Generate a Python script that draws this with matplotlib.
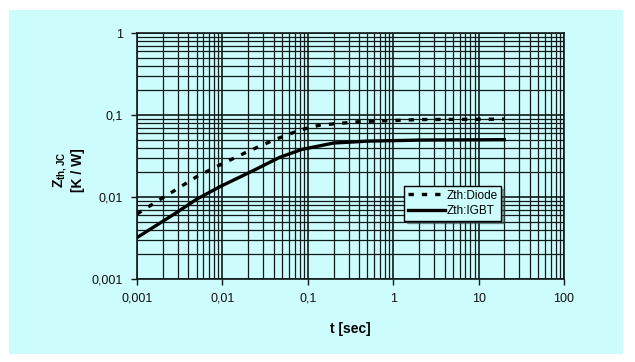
import numpy as np
import matplotlib.pyplot as plt
from matplotlib.patches import Rectangle
from matplotlib.ticker import FixedLocator, LogLocator, NullFormatter

plt.rcParams['font.family'] = ['Liberation Sans', 'DejaVu Sans']
plt.rcParams['mathtext.fontset'] = 'custom'
plt.rcParams['mathtext.rm'] = 'Liberation Sans'
plt.rcParams['mathtext.bf'] = 'Liberation Sans:bold'

# values
t_igbt = [0.001, 0.0028, 0.005, 0.0094, 0.023, 0.047, 0.085, 0.2, 0.5, 2.2, 20]
z_igbt = [0.0032, 0.0063, 0.0094, 0.0134, 0.021, 0.0305, 0.038, 0.0455, 0.048, 0.0495, 0.050]
t_diode = [0.001, 0.0017, 0.0029, 0.005, 0.0089, 0.02, 0.04, 0.081, 0.14, 0.41, 2.05, 20]
z_diode = [0.0062, 0.0088, 0.0124, 0.0177, 0.024, 0.036, 0.0495, 0.0656, 0.0755, 0.083, 0.088, 0.089]

x_ticks = [0.001, 0.01, 0.1, 1, 10, 100]
x_labels = ['0,001', '0,01', '0,1', '1', '10', '100']
y_ticks = [0.001, 0.01, 0.1, 1]
y_labels = ['0,001', '0,01', '0,1', '1']

panel = '#ccfcfc'
ink = '#111a1a'

fig = plt.figure(figsize=(6.35, 3.62), dpi=100)
fig.patch.set_facecolor('white')
fig.patches.append(Rectangle((9 / 635, 8 / 362), 614 / 635, 344 / 362,
                             transform=fig.transFigure, facecolor=panel,
                             edgecolor='none', zorder=-5))

ax = fig.add_axes([137 / 635, 1 - 279 / 362, 427 / 635, 246 / 362])
ax.set_facecolor(panel)
ax.set_xscale('log')
ax.set_yscale('log')
ax.set_xlim(0.001, 100)
ax.set_ylim(0.001, 1)

ax.xaxis.set_major_locator(FixedLocator(x_ticks))
ax.set_xticklabels(x_labels)
ax.yaxis.set_major_locator(FixedLocator(y_ticks))
ax.set_yticklabels(y_labels)
ax.xaxis.set_minor_locator(LogLocator(base=10, subs=np.arange(2, 10), numticks=20))
ax.yaxis.set_minor_locator(LogLocator(base=10, subs=np.arange(2, 10), numticks=20))
ax.xaxis.set_minor_formatter(NullFormatter())
ax.yaxis.set_minor_formatter(NullFormatter())

ax.grid(True, which='major', color=ink, lw=1.2)
ax.grid(True, which='minor', color=ink, lw=0.9)
ax.tick_params(which='major', length=4, width=1, color=ink, labelsize=9,
               pad=6, labelcolor='#111111')
ax.tick_params(which='minor', length=0)
for s in ax.spines.values():
    s.set_color(ink)
    s.set_linewidth(1.2)
ax.set_axisbelow(True)

ax.plot(t_diode, z_diode, color='black', lw=2.4, ls=(0, (1.6, 2.4)),
        label='Zth:Diode', zorder=3)
ax.plot(t_igbt, z_igbt, color='black', lw=2.4, label='Zth:IGBT', zorder=3)

leg = ax.legend(loc='upper left', bbox_to_anchor=(404 / 635, 1 - 186 / 362),
                bbox_transform=fig.transFigure, fontsize=8.5, frameon=True,
                fancybox=False, shadow=True, handlelength=3.2,
                handletextpad=0.1, borderpad=0.3, labelspacing=0.3,
                borderaxespad=0)
leg.get_frame().set_facecolor(panel)
leg.get_frame().set_edgecolor('black')
leg.get_frame().set_linewidth(1.0)
leg.get_frame().set_alpha(1)

ax.set_xlabel('t [sec]', fontsize=10, fontweight='bold', labelpad=12)
fig.text(60 / 635, 1 - 170 / 362, '$\\mathbf{Z_{th,JC}}$', rotation=90,
         ha='center', va='center', fontsize=10)
fig.text(78 / 635, 1 - 170 / 362, '[K / W]', rotation=90, ha='center',
         va='center', fontsize=10, fontweight='bold')

fig.savefig('out.png', dpi=100, facecolor=fig.get_facecolor())
